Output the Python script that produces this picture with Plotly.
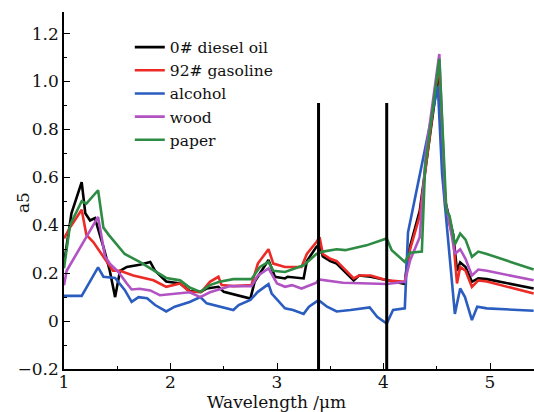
import plotly.graph_objects as go

# ---- data ----
diesel_x = [1.0, 1.07, 1.166, 1.20, 1.245, 1.29, 1.37, 1.43, 1.48, 1.526, 1.59, 1.71, 1.81, 1.855, 1.96,
            2.09, 2.18, 2.28, 2.34, 2.45, 2.50, 2.75, 2.79, 2.92, 2.98, 3.075, 3.10, 3.25, 3.28, 3.37,
            3.40, 3.43, 3.50, 3.56, 3.72, 3.77, 3.88, 4.03, 4.20, 4.23, 4.34, 4.52, 4.58, 4.655, 4.69,
            4.72, 4.77, 4.83, 4.89, 4.97, 5.41]
diesel_y = [0.24, 0.45, 0.58, 0.45, 0.42, 0.43, 0.31, 0.21, 0.10, 0.21, 0.226, 0.235, 0.247, 0.21, 0.165,
            0.157, 0.125, 0.122, 0.136, 0.143, 0.122, 0.094, 0.164, 0.255, 0.185, 0.178, 0.185, 0.178, 0.25, 0.31,
            0.32, 0.27, 0.25, 0.24, 0.17, 0.19, 0.185, 0.17, 0.155, 0.28, 0.46, 1.05, 0.50, 0.36, 0.21,
            0.245, 0.226, 0.164, 0.178, 0.175, 0.136]

gasoline_x = [1.0, 1.056, 1.166, 1.21, 1.275, 1.37, 1.46, 1.526, 1.65, 1.84, 1.96, 2.09, 2.18, 2.29, 2.37,
              2.45, 2.48, 2.59, 2.76, 2.82, 2.92, 2.965, 3.075, 3.23, 3.28, 3.37, 3.40, 3.43, 3.50, 3.56,
              3.72, 3.77, 3.88, 4.03, 4.20, 4.25, 4.34, 4.52, 4.58, 4.655, 4.69, 4.72, 4.77, 4.83, 4.89,
              4.97, 5.41]
gasoline_y = [0.345, 0.39, 0.465, 0.36, 0.33, 0.27, 0.21, 0.21, 0.19, 0.17, 0.143, 0.157, 0.122, 0.122, 0.164,
              0.185, 0.15, 0.146, 0.15, 0.24, 0.30, 0.24, 0.226, 0.226, 0.28, 0.33, 0.35, 0.28, 0.26, 0.25,
              0.178, 0.19, 0.19, 0.17, 0.164, 0.30, 0.44, 1.08, 0.476, 0.34, 0.157, 0.226, 0.21, 0.143, 0.17,
              0.165, 0.115]

alcohol_x = [1.0, 1.166, 1.32, 1.37, 1.48, 1.57, 1.635, 1.70, 1.78, 1.855, 1.96, 2.04, 2.18, 2.28, 2.34,
             2.46, 2.59, 2.64, 2.75, 2.82, 2.92, 2.95, 3.075, 3.15, 3.25, 3.30, 3.39, 3.47, 3.56, 3.69,
             3.87, 3.94, 4.03, 4.09, 4.20, 4.23, 4.30, 4.51, 4.55, 4.67, 4.72, 4.765, 4.83, 4.88, 4.97, 5.41]
alcohol_y = [0.105, 0.105, 0.224, 0.185, 0.18, 0.13, 0.08, 0.10, 0.095, 0.067, 0.04, 0.06, 0.08, 0.10, 0.074,
             0.06, 0.046, 0.067, 0.088, 0.122, 0.154, 0.115, 0.053, 0.046, 0.03, 0.06, 0.0875, 0.06, 0.04, 0.046,
             0.057, 0.018, -0.01, 0.046, 0.053, 0.37, 0.52, 0.98, 0.615, 0.03, 0.136, 0.10, 0.004, 0.06, 0.053, 0.043]

wood_x = [1.0, 1.025, 1.32, 1.385, 1.43, 1.51, 1.59, 1.635, 1.71, 1.81, 1.90, 2.0, 2.18, 2.28, 2.37,
          2.56, 2.76, 2.82, 2.92, 3.0, 3.075, 3.14, 3.23, 3.37, 3.39, 3.62, 4.03, 4.20, 4.25, 4.34,
          4.40, 4.524, 4.58, 4.62, 4.67, 4.72, 4.77, 4.83, 4.89, 4.97, 5.41]
wood_y = [0.15, 0.21, 0.435, 0.27, 0.24, 0.205, 0.157, 0.132, 0.135, 0.128, 0.108, 0.112, 0.12, 0.10, 0.12,
          0.146, 0.146, 0.19, 0.22, 0.157, 0.143, 0.15, 0.136, 0.16, 0.174, 0.16, 0.155, 0.164, 0.254, 0.35,
          0.71, 1.115, 0.50, 0.41, 0.28, 0.30, 0.26, 0.19, 0.215, 0.21, 0.17]

paper_x = [1.0, 1.056, 1.166, 1.21, 1.32, 1.37, 1.42, 1.51, 1.57, 1.71, 1.87, 1.96, 2.09, 2.18, 2.28,
           2.37, 2.46, 2.59, 2.76, 2.84, 2.92, 2.965, 3.075, 3.25, 3.37, 3.43, 3.56, 3.64, 3.84, 4.03,
           4.077, 4.20, 4.25, 4.36, 4.39, 4.524, 4.59, 4.62, 4.67, 4.72, 4.77, 4.83, 4.89, 4.97, 5.41]
paper_y = [0.22, 0.40, 0.50, 0.49, 0.546, 0.39, 0.36, 0.31, 0.28, 0.247, 0.205, 0.18, 0.17, 0.14, 0.122,
           0.15, 0.164, 0.175, 0.175, 0.226, 0.247, 0.21, 0.205, 0.233, 0.28, 0.29, 0.30, 0.296, 0.316, 0.345,
           0.296, 0.247, 0.285, 0.29, 0.64, 1.095, 0.46, 0.44, 0.32, 0.365, 0.34, 0.268, 0.29, 0.28, 0.215]

marker_lines_x = [3.39, 4.03]
marker_lines_y = [-0.2, 0.91]

series_names = ["0# diesel oil", "92# gasoline", "alcohol", "wood", "paper"]
series_colors = ["#000000", "#ec2a26", "#2a5dbf", "#b253c4", "#2e8b44"]

y_tickvals = [-0.2, 0, 0.2, 0.4, 0.6, 0.8, 1.0, 1.2]
y_ticktext = ["\u22120.2", "0", "0.2", "0.4", "0.6", "0.8", "1.0", "1.2"]
x_tickvals = [1, 2, 3, 4, 5]
x_ticktext = ["1", "2", "3", "4", "5"]
x_title = "Wavelength /\u03bcm"
y_title = "a5"

FONT = "DejaVu Serif"

fig = go.Figure()
all_x = [diesel_x, gasoline_x, alcohol_x, wood_x, paper_x]
all_y = [diesel_y, gasoline_y, alcohol_y, wood_y, paper_y]
for xs, ys, name, col in zip(all_x, all_y, series_names, series_colors):
    fig.add_trace(go.Scatter(x=xs, y=ys, mode="lines", name=name,
                             line=dict(color=col, width=2.6)))

for xv in marker_lines_x:
    fig.add_trace(go.Scatter(x=[xv, xv], y=marker_lines_y, mode="lines", showlegend=False,
                             line=dict(color="#000000", width=3), hoverinfo="skip"))

fig.update_layout(
    width=534, height=412,
    margin=dict(l=64, r=0, t=12, b=43),
    paper_bgcolor="white", plot_bgcolor="white",
    showlegend=True,
    legend=dict(x=0.14, y=0.948, xanchor="left", yanchor="top",
                bgcolor="rgba(0,0,0,0)", font=dict(family=FONT, size=15.5, color="#111"),
                tracegroupgap=0, itemwidth=30),
    xaxis=dict(range=[1, 5.413], showgrid=False, zeroline=False, showline=True,
               linecolor="#000", linewidth=1.5, ticks="inside", ticklen=6, tickwidth=1.3,
               tickcolor="#000", tickvals=x_tickvals, ticktext=x_ticktext,
               tickfont=dict(family=FONT, size=17, color="#111"), ticklabelstandoff=-3,
               minor=dict(ticks="inside", ticklen=3, dtick=0.5, tick0=1, tickcolor="#000")),
    yaxis=dict(range=[-0.2, 1.29], showgrid=False, zeroline=False, showline=True,
               linecolor="#000", linewidth=1.5, ticks="inside", ticklen=6, tickwidth=1.3,
               tickcolor="#000", tickvals=y_tickvals, ticktext=y_ticktext,
               tickfont=dict(family=FONT, size=17, color="#111"),
               minor=dict(ticks="inside", ticklen=3, dtick=0.1, tick0=0, tickcolor="#000")),
    annotations=[
        dict(text=x_title, xref="paper", yref="paper", x=0.453, y=-0.058,
             xanchor="center", yanchor="top", showarrow=False,
             font=dict(family=FONT, size=17, color="#111")),
        dict(text=y_title, xref="paper", yref="paper", x=-0.087, y=0.465,
             xanchor="center", yanchor="middle", showarrow=False, textangle=-90,
             font=dict(family=FONT, size=17, color="#111")),
    ],
)

fig.write_html("out.html")
